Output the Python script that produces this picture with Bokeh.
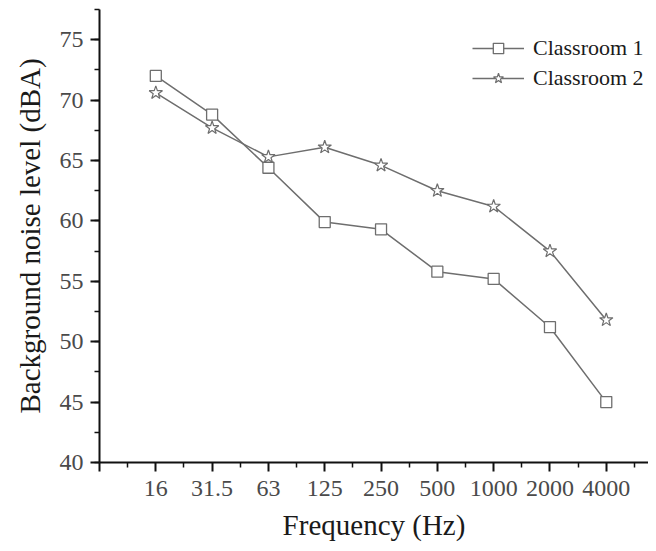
from bokeh.plotting import figure
from bokeh.models import FixedTicker, SingleIntervalTicker, Range1d, Legend, LegendItem
from bokeh.embed import file_html
from bokeh.resources import INLINE

# ---- data ----
frequencies = ["16", "31.5", "63", "125", "250", "500", "1000", "2000", "4000"]
classroom1 = [72.0, 68.8, 64.4, 59.9, 59.3, 55.8, 55.2, 51.2, 45.0]
classroom2 = [70.6, 67.7, 65.3, 66.1, 64.6, 62.5, 61.2, 57.5, 51.8]
series_names = ["Classroom 1", "Classroom 2"]

xpos = list(range(1, len(frequencies) + 1))

FONT = "Liberation Serif"
LINE = "#6e6e6e"

p = figure(width=648, height=543, output_backend="svg", toolbar_location=None,
           x_range=Range1d(0, 9.75), y_range=Range1d(40, 77.5),
           min_border_left=99, min_border_top=9, min_border_right=0, min_border_bottom=79)
p.outline_line_color = None
p.grid.visible = False
p.background_fill_color = "white"

r1l = p.line(xpos, classroom1, line_color=LINE, line_width=1.5)
r1m = p.scatter(xpos, classroom1, marker="square", size=11, line_color=LINE,
                fill_color="white", line_width=1.3)
r2l = p.line(xpos, classroom2, line_color=LINE, line_width=1.5)
r2m = p.scatter(xpos, classroom2, marker="star", size=14, line_color=LINE,
                fill_color="white", line_width=1.2)

# x axis
xa = p.xaxis[0]
xa.ticker = FixedTicker(ticks=[0] + xpos, minor_ticks=[i + 0.5 for i in range(0, 10)])
xa.major_label_overrides = {0: ""}
xa.major_label_overrides.update({x: f for x, f in zip(xpos, frequencies)})
xa.axis_label = "Frequency (Hz)"

# y axis
ya = p.yaxis[0]
ya.ticker = SingleIntervalTicker(interval=5, num_minor_ticks=2)
ya.axis_label = "Background noise level (dBA)"

for ax in (xa, ya):
    ax.axis_line_width = 2
    ax.axis_line_color = "#111111"
    ax.major_tick_line_color = "#111111"
    ax.minor_tick_line_color = "#111111"
    ax.major_tick_line_width = 2
    ax.minor_tick_line_width = 1.5
    ax.major_tick_out = 9
    ax.major_tick_in = 0
    ax.minor_tick_out = 5
    ax.minor_tick_in = 0
    ax.major_label_text_font = FONT
    ax.major_label_text_font_size = "24px"
    ax.major_label_text_color = "#4a4a4a"
    ax.axis_label_text_font = FONT
    ax.axis_label_text_font_size = "29px"
    ax.axis_label_text_font_style = "normal"
    ax.axis_label_text_color = "#1a1a1a"

xa.major_label_standoff = 9
xa.axis_label_standoff = 10
ya.major_label_standoff = 7
ya.axis_label_standoff = 11

legend = Legend(items=[LegendItem(label=series_names[0], renderers=[r1l, r1m]),
                       LegendItem(label=series_names[1], renderers=[r2l, r2m])],
                location=(373, 371))
legend.border_line_color = None
legend.background_fill_alpha = 0
legend.padding = 0
legend.margin = 0
legend.spacing = 4
legend.glyph_width = 52
legend.glyph_height = 26
legend.label_height = 26
legend.label_standoff = 9
legend.label_text_font = FONT
legend.label_text_font_size = "22px"
legend.label_text_color = "#1a1a1a"
p.add_layout(legend, "center")

open("out.html", "w").write(file_html(p, INLINE))
